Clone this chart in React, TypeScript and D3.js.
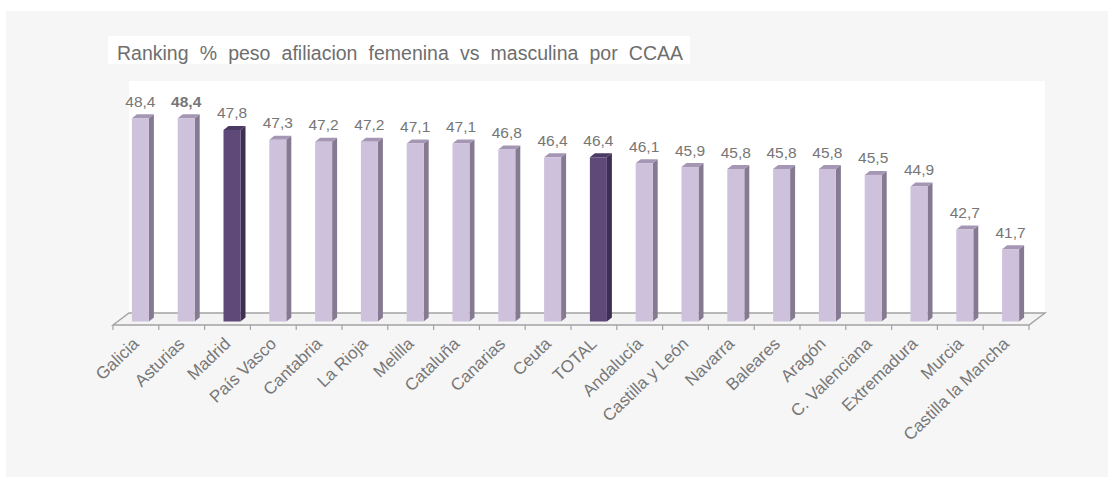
import React, { useRef, useEffect } from 'react';
import * as d3 from 'd3';

// ranking % afiliacion femenina por CCAA
const categories = [
  'Galicia', 'Asturias', 'Madrid', 'País Vasco', 'Cantabria', 'La Rioja', 'Melilla',
  'Cataluña', 'Canarias', 'Ceuta', 'TOTAL', 'Andalucía', 'Castilla y León', 'Navarra',
  'Baleares', 'Aragón', 'C. Valenciana', 'Extremadura', 'Murcia', 'Castilla la Mancha',
];
const values = [
  48.4, 48.4, 47.8, 47.3, 47.2, 47.2, 47.1, 47.1, 46.8, 46.4,
  46.4, 46.1, 45.9, 45.8, 45.8, 45.8, 45.5, 44.9, 42.7, 41.7,
];
const highlighted = ['Madrid', 'TOTAL'];
const boldLabels = ['Asturias'];
const yDomain = [38, 50];
const title = 'Ranking % peso afiliacion femenina vs masculina por CCAA';

const W = 1108;
const H = 477;
const floorY = 325;
const depth = { dx: 16, dy: -12 };
const barDepth = { dx: 5, dy: -4 };

const light = { front: '#cdc1dc', side: '#857a91', top: '#a597b4' };
const dark = { front: '#5e4979', side: '#3d2e54', top: '#4b3a64' };

const fmt = (v: number) => v.toFixed(1).replace('.', ',');

const App: React.FC = () => {
  const titleRef = useRef<SVGTextElement | null>(null);

  useEffect(() => {
    // stretch the word gaps so the title fills its box like the original
    const t = titleRef.current;
    if (!t) return;
    const len = t.getComputedTextLength();
    const gaps = title.split(' ').length - 1;
    d3.select(t).attr('word-spacing', Math.max(0, (566 - len) / gaps));
  }, []);

  const x = d3.scaleBand<string>().domain(categories).range([113, 1029]).paddingInner(0);
  const y = d3.scaleLinear().domain(yDomain).range([321.5, 321.5 - 12 * 19.55]);
  const bw = x.bandwidth();
  const x0 = x.range()[0];
  const x1 = x.range()[1];

  const floorPts = [
    [x0, floorY], [x1, floorY], [x1 + depth.dx, floorY + depth.dy], [x0 + depth.dx, floorY + depth.dy],
  ];
  const line = d3.line();

  return (
    <svg width={W} height={H} style={{ position: 'absolute', left: 0, top: 0, fontFamily: 'Liberation Sans, Arial, sans-serif' }}>
      <rect x={0} y={0} width={W} height={H} fill="#ffffff" />
      <rect x={6} y={11} width={W - 6} height={H - 11} fill="#f6f6f6" />

      {/* title box */}
      <rect x={108} y={36} width={582} height={28} fill="#ffffff" />
      <text ref={titleRef} x={117} y={59.5} fontSize={19.5} fill="#6e6e6e">{title}</text>

      {/* back wall */}
      <rect x={x0 + depth.dx} y={81} width={x1 - x0} height={floorY + depth.dy - 81} fill="#ffffff" />

      {/* floor */}
      <path d={line(floorPts as [number, number][]) + 'Z'} fill="#f3f3f3" stroke="#a3a3a3" strokeWidth={1.4} />
      {d3.range(categories.length + 1).map(i => {
        const tx = x0 + i * bw;
        return <line key={i} x1={tx} x2={tx} y1={floorY} y2={floorY + 5} stroke="#a3a3a3" strokeWidth={1.2} />;
      })}

      {/* bars */}
      {categories.map((c, i) => {
        const v = values[i];
        const col = highlighted.includes(c) ? dark : light;
        const cx = (x(c) ?? 0) + bw / 2;
        const L = cx - 4;
        const R = cx + 13;
        const top = y(v);
        const bot = y(yDomain[0]);
        const side: [number, number][] = [[R, top], [R + barDepth.dx, top + barDepth.dy], [R + barDepth.dx, bot + barDepth.dy], [R, bot]];
        const lid: [number, number][] = [[L, top], [R, top], [R + barDepth.dx, top + barDepth.dy], [L + barDepth.dx, top + barDepth.dy]];
        return (
          <g key={c}>
            <path d={line(side) + 'Z'} fill={col.side} />
            <path d={line(lid) + 'Z'} fill={col.top} />
            <rect x={L} y={top} width={R - L} height={bot - top} fill={col.front} />
            <text x={(L + R) / 2} y={top - 11.5} textAnchor="middle" fontSize={15.5}
              fontWeight={boldLabels.includes(c) ? 'bold' : 'normal'} fill="#767676">{fmt(v)}</text>
          </g>
        );
      })}

      {/* category labels */}
      {categories.map(c => {
        const cx = (x(c) ?? 0) + bw / 2;
        return (
          <text key={c} transform={`translate(${cx + 4},${345}) rotate(-44)`} textAnchor="end" fontSize={17} fill="#777777">{c}</text>
        );
      })}
    </svg>
  );
};

export default App;
